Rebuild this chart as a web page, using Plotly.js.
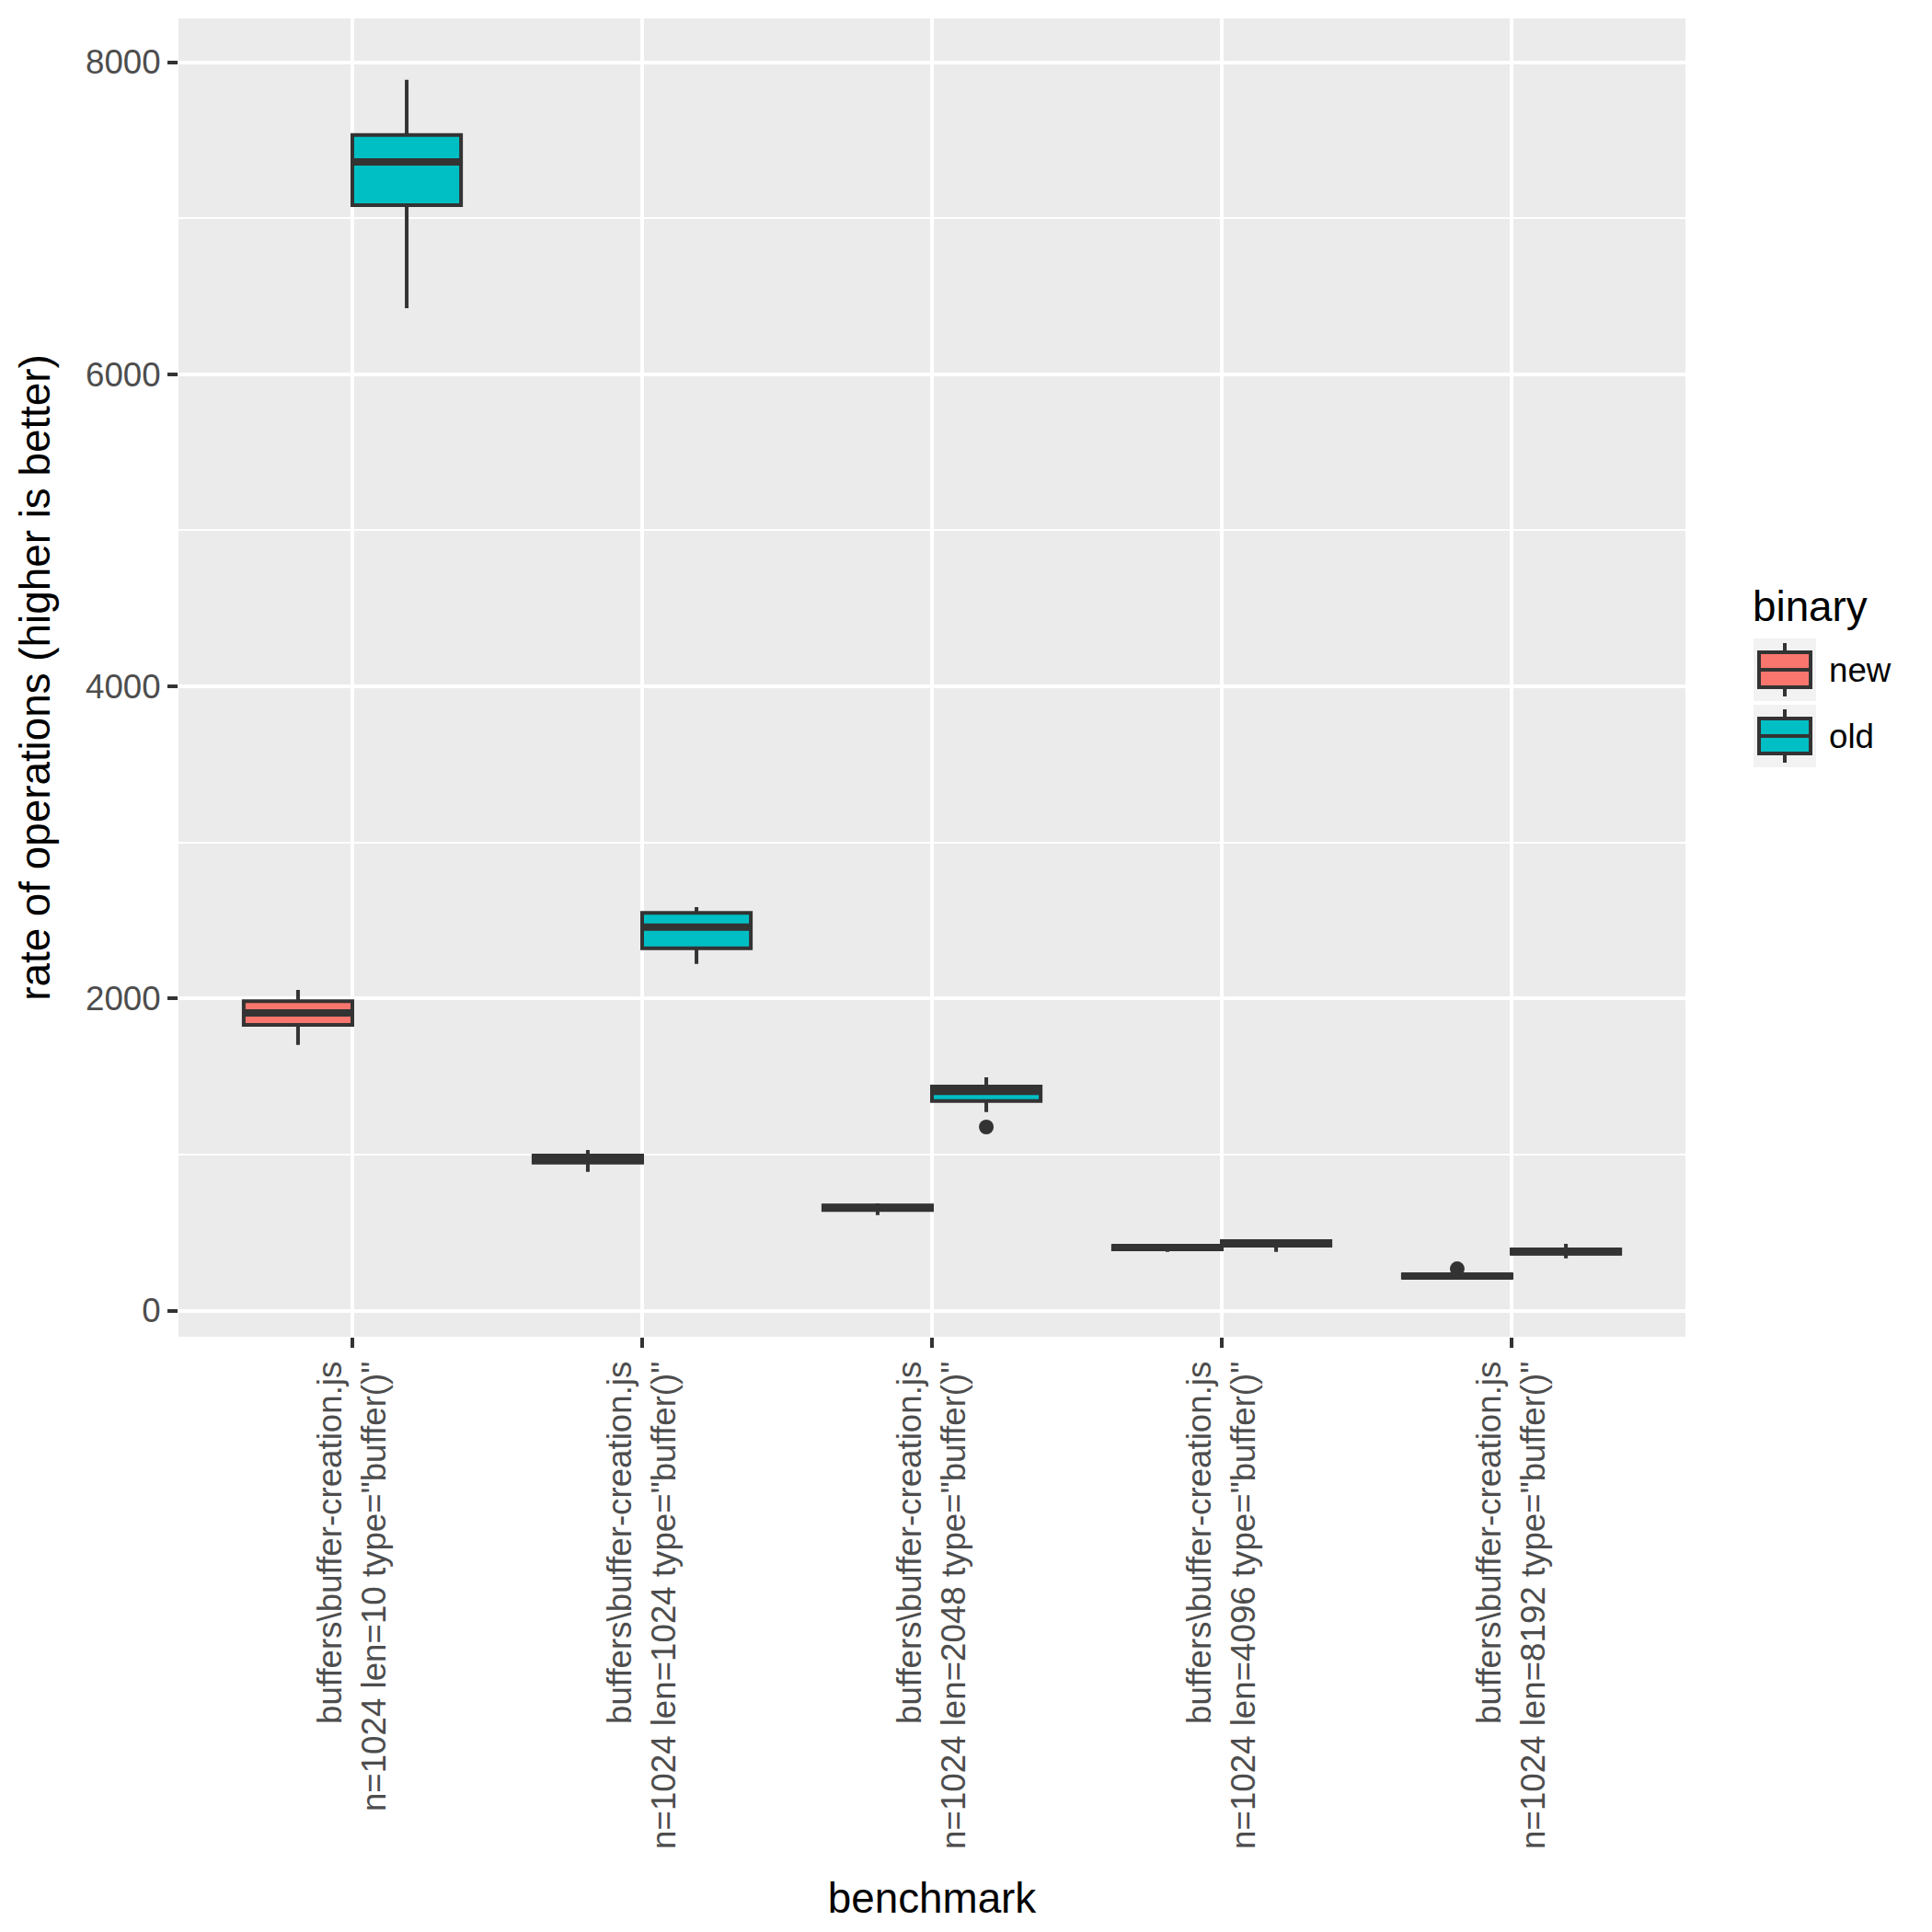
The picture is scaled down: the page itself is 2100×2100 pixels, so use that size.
<!DOCTYPE html>
<html>
<head>
<meta charset="utf-8">
<script src="https://cdn.plot.ly/plotly-3.0.1.min.js"></script>
<style>html,body{margin:0;padding:0;background:#ffffff;}</style>
</head>
<body>
<div id="chart" style="width:2100px;height:2100px;"></div>
<script>
// Benchmark categories
const benchmarkFile = 'buffers\\buffer-creation.js';
const bufferLengths = [10, 1024, 2048, 4096, 8192];
const categories = bufferLengths.map(len => benchmarkFile + '<br>n=1024 len=' + len + ' type="buffer()"');

// Series: binary build
const binaries = ['new', 'old'];
const fillColors = ['#F8766D', '#00BFC4'];

// Box statistics (rate of operations) for the "new" binary
const newLowerFence = [1703, 889, 612, 376, 205];
const newQ1 = [1830, 948, 644, 392, 211];
const newMedian = [1907, 970, 659, 404, 221];
const newQ3 = [1982, 993, 674, 414, 231];
const newUpperFence = [2054, 1029, 687, 420, 236];
// Outlying runs of the "new" binary (benchmark index, rate)
const newOutlierBench = [4];
const newOutlierRate = [268];

// Box statistics for the "old" binary
const oldLowerFence = [6423, 2221, 1272, 376, 335];
const oldQ1 = [7083, 2322, 1343, 416, 364];
const oldMedian = [7360, 2457, 1405, 430, 378];
const oldQ3 = [7533, 2548, 1435, 445, 392];
const oldUpperFence = [7887, 2585, 1494, 450, 427];
// Outlying runs of the "old" binary
const oldOutlierBench = [2];
const oldOutlierRate = [1176];

// Y axis ticks
const yTickVals = [0, 2000, 4000, 6000, 8000];
const yTickText = ['0', '2000', '4000', '6000', '8000'];

const FONT = 'Liberation Sans, Arial, sans-serif';
const INK = '#333333';

const stats = [
  {lo: newLowerFence, q1: newQ1, med: newMedian, q3: newQ3, hi: newUpperFence,
   ob: newOutlierBench, or: newOutlierRate},
  {lo: oldLowerFence, q1: oldQ1, med: oldMedian, q3: oldQ3, hi: oldUpperFence,
   ob: oldOutlierBench, or: oldOutlierRate}
];

const traces = [];
binaries.forEach((name, i) => {
  traces.push({
    type: 'box',
    name: name,
    x: categories,
    q1: stats[i].q1,
    median: stats[i].med,
    q3: stats[i].q3,
    lowerfence: stats[i].lo,
    upperfence: stats[i].hi,
    boxpoints: false,
    whiskerwidth: 0,
    fillcolor: fillColors[i],
    line: {color: INK, width: 4},
    offsetgroup: name,
    alignmentgroup: 'runs',
    showlegend: false,
    hoverinfo: 'skip'
  });
});
// Heavier median bars, drawn over each box
binaries.forEach((name, i) => {
  traces.push({
    type: 'scatter',
    mode: 'markers',
    name: name + ' median',
    x: categories,
    y: stats[i].med,
    marker: {symbol: 'line-ew', size: 86, color: INK, line: {color: INK, width: 8}},
    offsetgroup: name,
    alignmentgroup: 'runs',
    showlegend: false,
    hoverinfo: 'skip'
  });
});
// Outlying points
binaries.forEach((name, i) => {
  traces.push({
    type: 'scatter',
    mode: 'markers',
    name: name + ' outliers',
    x: stats[i].ob.map(k => categories[k]),
    y: stats[i].or,
    marker: {color: INK, size: 16, line: {width: 0}},
    offsetgroup: name,
    alignmentgroup: 'runs',
    showlegend: false,
    hoverinfo: 'skip'
  });
});

// Plot panel geometry (pixels) used to lay out the legend key
const W = 2100, H = 2100;
const M = {l: 194, r: 268, t: 20, b: 647};
const pw = W - M.l - M.r, ph = H - M.t - M.b;
const px = x => (x - M.l) / pw;
const py = y => (H - M.b - y) / ph;

const shapes = [];
const annotations = [{
  xref: 'paper', yref: 'paper', x: px(1903), y: py(659),
  xanchor: 'left', yanchor: 'middle', showarrow: false,
  text: 'binary', font: {family: FONT, size: 45.8, color: '#000000'}
}];

binaries.forEach((name, i) => {
  const top = 694 + i * 72;
  shapes.push({type: 'rect', xref: 'paper', yref: 'paper',
    x0: px(1906), x1: px(1974), y0: py(top), y1: py(top + 68),
    fillcolor: '#F2F2F2', line: {width: 0}});
  shapes.push({type: 'line', xref: 'paper', yref: 'paper',
    x0: px(1940), x1: px(1940), y0: py(top + 5), y1: py(top + 63),
    line: {color: INK, width: 4}});
  shapes.push({type: 'rect', xref: 'paper', yref: 'paper',
    x0: px(1912), x1: px(1968), y0: py(top + 15), y1: py(top + 53),
    fillcolor: fillColors[i], line: {color: INK, width: 4}});
  shapes.push({type: 'line', xref: 'paper', yref: 'paper',
    x0: px(1912), x1: px(1968), y0: py(top + 34), y1: py(top + 34),
    line: {color: INK, width: 4}});
  annotations.push({xref: 'paper', yref: 'paper', x: px(1986), y: py(top + 34),
    xanchor: 'left', yanchor: 'middle', showarrow: false,
    text: name, font: {family: FONT, size: 36.7, color: '#000000'}});
});

const layout = {
  width: W, height: H,
  margin: M,
  paper_bgcolor: '#ffffff',
  plot_bgcolor: '#EBEBEB',
  font: {family: FONT, color: '#000000'},
  showlegend: false,
  boxmode: 'group',
  boxgap: 0.25,
  boxgroupgap: 0,
  scattermode: 'group',
  scattergap: 0.25,
  xaxis: {
    type: 'category',
    categoryorder: 'array',
    categoryarray: categories,
    range: [-0.6, 4.6],
    showgrid: true, gridcolor: '#ffffff', gridwidth: 4,
    zeroline: false, showline: false,
    ticks: 'outside', ticklen: 11, tickwidth: 4, tickcolor: INK,
    tickangle: -90,
    tickfont: {family: FONT, size: 36.7, color: '#4D4D4D'},
    title: {text: 'benchmark', font: {family: FONT, size: 45.8, color: '#000000'}, standoff: 38},
    automargin: false
  },
  yaxis: {
    range: [-168, 8280],
    tickmode: 'array', tickvals: yTickVals, ticktext: yTickText,
    showgrid: true, gridcolor: '#ffffff', gridwidth: 4,
    minor: {dtick: 1000, tick0: 0, showgrid: true, gridcolor: '#ffffff', gridwidth: 2, ticks: ''},
    zeroline: false, showline: false,
    ticks: 'outside', ticklen: 11, tickwidth: 4, tickcolor: INK,
    tickfont: {family: FONT, size: 36.7, color: '#4D4D4D'},
    title: {text: 'rate of operations (higher is better)', font: {family: FONT, size: 45.8, color: '#000000'}, standoff: 24},
    automargin: false
  },
  shapes: shapes,
  annotations: annotations
};

Plotly.newPlot('chart', traces, layout, {staticPlot: true, displayModeBar: false});
</script>
</body>
</html>
